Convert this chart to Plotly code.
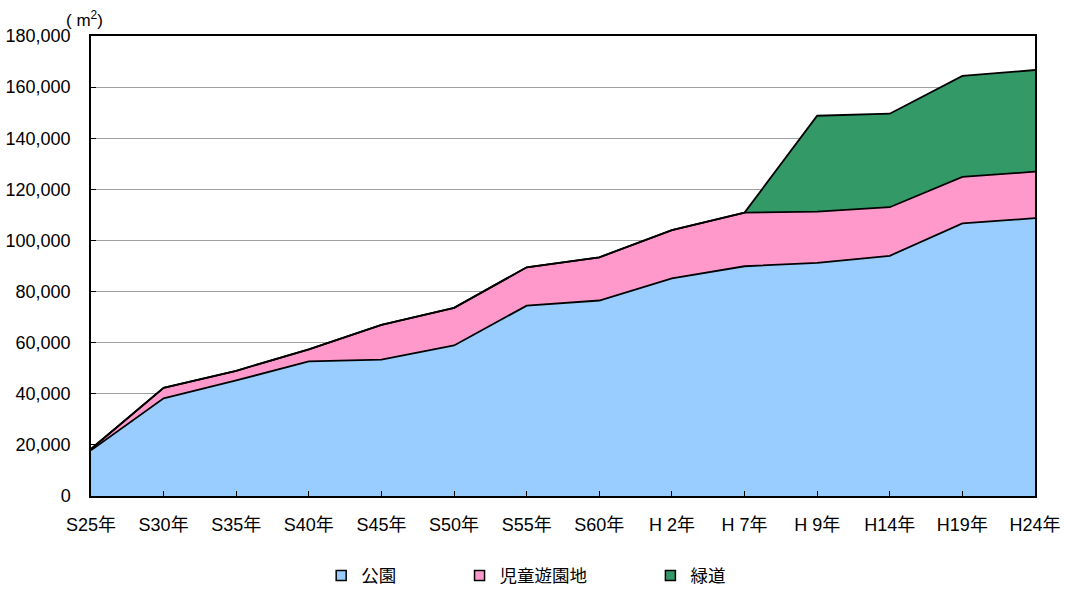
import plotly.graph_objects as go

categories = ["S25年", "S30年", "S35年", "S40年", "S45年", "S50年", "S55年",
              "S60年", "H 2年", "H 7年", "H 9年", "H14年", "H19年", "H24年"]
park = [17900, 38200, 45200, 52700, 53400, 58900, 74500,
        76500, 85200, 89900, 91200, 94000, 106700, 108700]
playground = [500, 4100, 3800, 4700, 13600, 14700, 15000,
              16900, 18800, 21000, 20100, 19000, 18200, 18200]
greenway = [0, 0, 0, 0, 0, 0, 0, 0, 0, 0, 37500, 36600, 39500, 39800]

series_names = ["公園", "児童遊園地", "緑道"]
series_colors = ["#99CCFF", "#FF99CC", "#339966"]

FONT = "Liberation Sans, Arial, Noto Sans CJK JP, sans-serif"
PAD = "\u00a0" * 12

fig = go.Figure()
for name, vals, col in zip(series_names, [park, playground, greenway], series_colors):
    fig.add_trace(go.Scatter(
        x=categories, y=vals, name=name, mode="lines",
        stackgroup="one", fillcolor=col, showlegend=False,
        line=dict(color="black", width=1.8),
    ))
# legend entries (square symbols)
for i, (name, col) in enumerate(zip(series_names, series_colors)):
    fig.add_trace(go.Scatter(
        x=[None], y=[None], name=name + (PAD if i < 2 else ""), mode="markers",
        marker=dict(symbol="square", size=10, color=col,
                    line=dict(color="black", width=1.5)),
    ))

fig.update_layout(
    width=1066, height=605,
    margin=dict(l=91, r=31, t=36, b=105),
    paper_bgcolor="white", plot_bgcolor="white",
    font=dict(family=FONT, size=18, color="black"),
    showlegend=True,
    legend=dict(orientation="h", x=0.461, xanchor="center", y=-0.173, yanchor="middle",
                itemwidth=30, font=dict(size=17.5), traceorder="normal"),
    xaxis=dict(type="category", range=[0, len(categories) - 1], automargin=False,
               showline=True, linecolor="black", linewidth=1.5, mirror=True,
               ticks="inside", ticklen=5, tickcolor="black",
               showgrid=False, ticklabelstandoff=12, zeroline=False),
    yaxis=dict(range=[0, 180000], dtick=20000, tickformat=",d", automargin=False,
               showline=True, linecolor="black", linewidth=1.5, mirror=True,
               ticks="inside", ticklen=5, tickcolor="black",
               showgrid=True, gridcolor="#A0A0A0", gridwidth=1,
               ticklabelstandoff=15, zeroline=False),
    annotations=[dict(text="( m<sup>2</sup>)", x=0.0, xref="paper", xanchor="right",
                      xshift=14, y=1.0, yref="paper", yanchor="bottom", yshift=4,
                      showarrow=False, font=dict(size=17))],
)

fig.write_html("out.html",
               config={"displayModeBar": False, "responsive": False},
               post_script="document.body.style.margin='0';document.body.style.overflow='hidden';")
